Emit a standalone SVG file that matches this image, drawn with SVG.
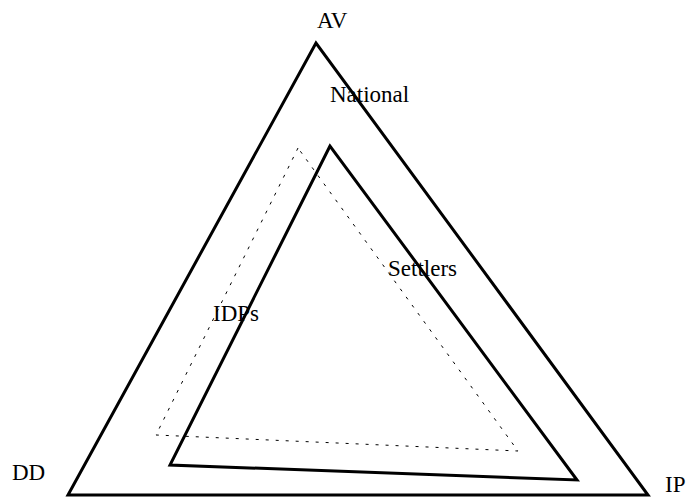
<svg xmlns="http://www.w3.org/2000/svg" width="686" height="497" viewBox="0 0 686 497">
<style>
.t{font-family:"Liberation Serif","Times New Roman",serif;font-size:23px;fill:#000}
.thick{fill:none;stroke:#000;stroke-width:3;stroke-linejoin:miter}
.dot{fill:none;stroke:#000;stroke-width:1;stroke-dasharray:3 7}
</style>
<rect width="686" height="497" fill="#fff"/>
<g id="connectors">
<polygon id="outer" class="thick" points="316,43 68,495 648,495"/>
<polygon id="inner" class="thick" points="330,146 170,465 577,480"/>
<polygon id="dotted" class="dot" points="298,148 156,435 518,451"/>
</g>
<g id="AV"><text class="t" x="317" y="28">AV</text></g>
<g id="National"><text class="t" x="330" y="102">National</text></g>
<g id="Settlers"><text class="t" x="388" y="276">Settlers</text></g>
<g id="IDPs"><text class="t" x="213" y="321">IDPs</text></g>
<g id="DD"><text class="t" x="12" y="480">DD</text></g>
<g id="IP"><text class="t" x="665" y="492">IP</text></g>
</svg>
